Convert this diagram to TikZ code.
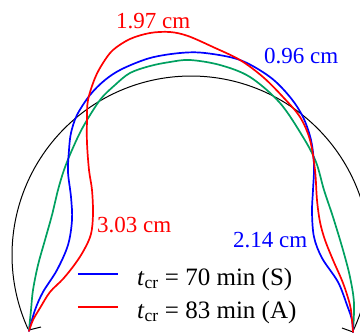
\documentclass[tikz,border=0pt]{standalone}
\usepackage{fontspec}
\setmainfont{Liberation Serif}
\definecolor{cblue}{RGB}{0,0,255}
\definecolor{cred}{RGB}{255,0,0}
\definecolor{cgreen}{RGB}{0,160,96}
\begin{document}
\begin{tikzpicture}[x=1pt,y=-1pt,
  curve/.style={line width=1.7pt, line join=round, line cap=round},
  thin/.style={line width=1pt, black},
  lbl/.style={font=\fontsize{23}{25}\selectfont, anchor=base west, inner sep=0pt},
  leg/.style={font=\fontsize{25}{27}\selectfont, anchor=base west, inner sep=0pt}]
\useasboundingbox (0,0) rectangle (360,333);
% reference circle
\draw[thin] plot[domain=155.6:385.4, samples=150, variable=\a] ({191+179*cos(\a)},{255+179*sin(\a)});
% supports
\coordinate (SL) at (29,330);
\coordinate (SR) at (353,332);
\coordinate (TL) at (41,327);
\coordinate (TR) at (342,328);
\draw[thin] (SL) -- (TL);
\draw[thin] (TR) -- (SR);
% green
\draw[cgreen,curve] plot[smooth, tension=0.55] coordinates {(29,330) (31,310) (33,290) (38,265) (45,240) (52,215) (58,190) (64,170) (72,150) (83,127) (100,100) (115,85) (130,73) (150,66) (170,62) (190,60) (220,65) (250,77) (280,103) (303,137) (316,162) (324,190) (333,217) (343,250) (350,277) (354,303) (353,332)};
% blue
\draw[cblue,curve] plot[smooth, tension=0.55] coordinates {(29,331) (35,310) (43,292) (57,270) (68,245) (72,220) (71,197) (68,172) (69,150) (71,133) (77,115) (90,95) (105,80) (122,69) (150,58) (180,53) (205,53) (240,60) (270,77) (290,97) (303,117) (311,140) (314,165) (313,190) (312,212) (314,237) (322,258) (338,282) (347,305) (352,320) (353,332)};
% red
\draw[cred,curve] plot[smooth, tension=0.55] coordinates {(29,331) (33,320) (40,308) (50,292) (63,279) (75,264) (84,250) (91,234) (93,214) (92,190) (89,170) (87,143) (87,120) (88,100) (95,78) (103,63) (113,50) (130,39) (150,33) (170,32) (188,36) (213,47) (240,60) (263,77) (283,97) (300,117) (310,140) (315,170) (317,200) (320,222) (325,240) (333,260) (343,283) (350,305) (352,320) (353,332)};
% labels
\node[lbl, cred] (l197) at (116,28) {1.97 cm};
\node[lbl, cblue] (l096) at (264,63) {0.96 cm};
\node[lbl, cred] (l303) at (97,232) {3.03 cm};
\node[lbl, cblue] (l214) at (233,247) {2.14 cm};
% legend
\coordinate (b1) at (78,274); \coordinate (b2) at (118,274);
\coordinate (r1) at (78,307); \coordinate (r2) at (118,307);
\draw[cblue,curve,line cap=butt] (b1) -- (b2);
\draw[cred,curve,line cap=butt] (r1) -- (r2);
\node[leg] (t1) at (137,285) {\textit{t}\textsubscript{cr} = 70 min (S)};
\node[leg] (t2) at (137,318) {\textit{t}\textsubscript{cr} = 83 min (A)};
\end{tikzpicture}
\end{document}
